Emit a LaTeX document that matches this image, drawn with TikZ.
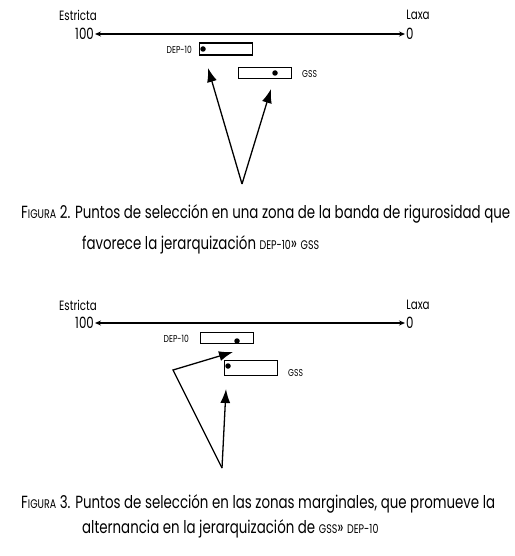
\documentclass[tikz,border=0pt]{standalone}
\usepackage{fontspec}
\setmainfont[FakeStretch=0.76]{Poppins}
\usepackage{tikz}
\usetikzlibrary{arrows.meta, positioning, calc}
\newcommand{\minisc}[1]{{\fontsize{12.5}{13}\selectfont #1}}

\begin{document}
\begin{tikzpicture}[
    x=1pt, y=-1pt,
    every node/.style={inner sep=1pt},
    axislabel/.style={font=\fontsize{13.5}{14}\selectfont},
    endlabel/.style={font=\fontsize{15.5}{16}\selectfont},
    tag/.style={font=\fontsize{10}{11}\selectfont},
    rangebox/.style={
        rectangle, draw=black, line width=1.5pt,
        minimum width=53pt, minimum height=12pt, inner sep=0pt
    },
    point/.style={circle, fill=black, minimum size=5.5pt, inner sep=0pt},
    axis/.style={{Stealth[length=6pt,width=5pt]}-{Stealth[length=6pt,width=5pt]}, line width=1.2pt},
    bigarrow/.style={-{Latex[length=14pt,width=10pt]}, line width=1.3pt},
    caption/.style={anchor=base west, inner sep=0pt, font=\fontsize{17.6}{19}\selectfont},
]
\useasboundingbox (0,0) rectangle (514,556);

% === FIGURA 2 ===
\node[axislabel] (strict2) at (78,15) {Estricta};
\node[axislabel] (lax2) at (418,15) {Laxa};
\node[endlabel, anchor=east] (hi2) at (95,34) {100};
\node[endlabel, anchor=west] (lo2) at (405,34) {0};
\draw[axis] (hi2.east) -- (lo2.west);

\node[rangebox] (dep2) at (226,49) {};
\node[point] (dotdep2) at (203,49) {};
\node[tag, anchor=east] (deplab2) at (193,50) {DEP-10};

\node[rangebox, minimum height=11pt] (gss2) at (265,73) {};
\node[point] (dotgss2) at (275,73) {};
\node[tag, anchor=west] (gsslab2) at (301,74) {GSS};

\coordinate (base2) at (242,184);
\coordinate (tipa2) at (208,68);
\coordinate (tipb2) at (271,89);
\draw[bigarrow] (base2) -- (tipa2);
\draw[bigarrow] (base2) -- (tipb2);

\node[caption] (cap2a) at (21,218) {F\minisc{IGURA} 2. Puntos de selección en una zona de la banda de rigurosidad que};
\node[caption] (cap2b) at (82,249) {favorece la jerarquización \minisc{DEP-10}» \minisc{GSS}};

% === FIGURA 3 ===
\node[axislabel] (strict3) at (78,305) {Estricta};
\node[axislabel] (lax3) at (418,305) {Laxa};
\node[endlabel, anchor=east] (hi3) at (95,323) {100};
\node[endlabel, anchor=west] (lo3) at (405,323) {0};
\draw[axis] (hi3.east) -- (lo3.west);

\node[rangebox, minimum height=11pt] (dep3) at (227,338) {};
\node[point] (dotdep3) at (237,341) {};
\node[tag, anchor=east] (deplab3) at (190,339) {DEP-10};

\node[rangebox, minimum height=15pt] (gss3) at (251,368) {};
\node[point] (dotgss3) at (228,366) {};
\node[tag, anchor=west] (gsslab3) at (287,373) {GSS};

\coordinate (base3) at (222,468);
\coordinate (bend3) at (173,370);
\coordinate (tipa3) at (233,352);
\coordinate (tipb3) at (226,389);
\draw[bigarrow] (base3) -- (bend3) -- (tipa3);
\draw[bigarrow] (base3) -- (tipb3);

\node[caption] (cap3a) at (21,508) {F\minisc{IGURA} 3. Puntos de selección en las zonas marginales, que promueve la};
\node[caption] (cap3b) at (82,533) {alternancia en la jerarquización de \minisc{GSS}» \minisc{DEP-10}};
\end{tikzpicture}
\end{document}
